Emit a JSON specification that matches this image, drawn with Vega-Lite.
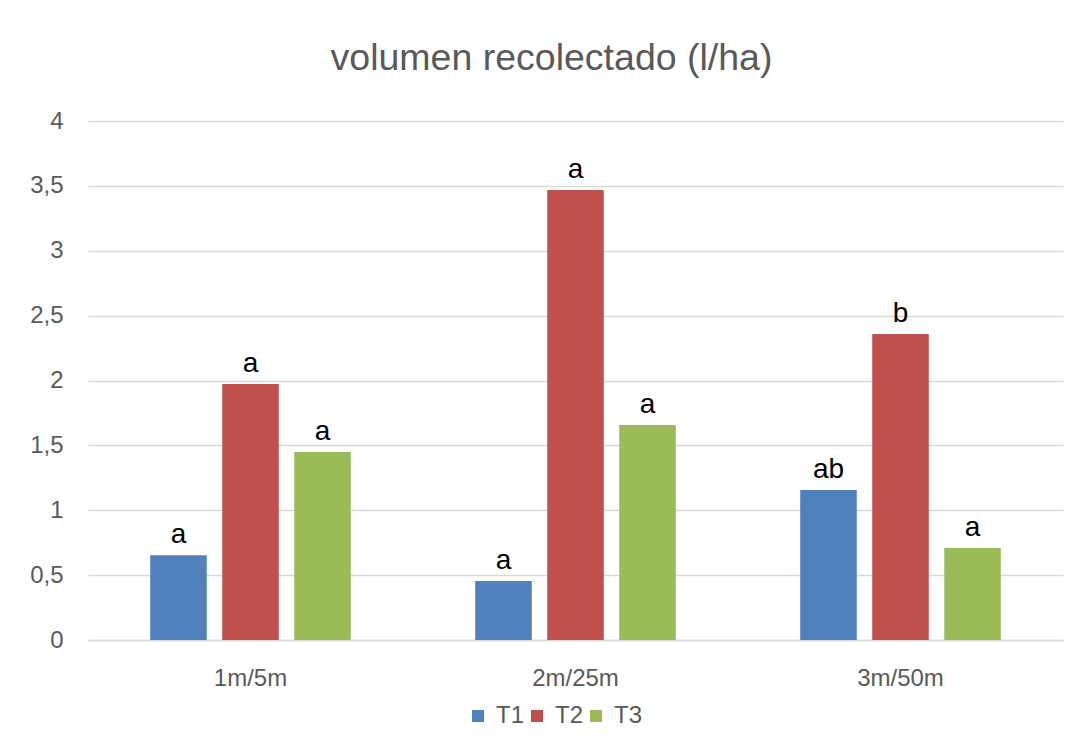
{
  "$schema": "https://vega.github.io/schema/vega-lite/v6.json",
  "width": 975,
  "height": 519,
  "autosize": {"type": "none"},
  "padding": {"left": 88, "top": 121, "right": 12, "bottom": 107},
  "background": "white",
  "title": {
    "text": "volumen recolectado (l/ha)",
    "fontSize": 37.5,
    "font": "Liberation Sans",
    "fontWeight": "normal",
    "color": "#595959",
    "anchor": "middle",
    "dx": -24,
    "offset": 2,
    "baseline": "alphabetic"
  },
  "data": {
    "values": [
      {"dist": "1m/5m", "trat": "T1", "vol": 0.653, "letra": "a"},
      {"dist": "1m/5m", "trat": "T2", "vol": 1.973, "letra": "a"},
      {"dist": "1m/5m", "trat": "T3", "vol": 1.449, "letra": "a"},
      {"dist": "2m/25m", "trat": "T1", "vol": 0.455, "letra": "a"},
      {"dist": "2m/25m", "trat": "T2", "vol": 3.468, "letra": "a"},
      {"dist": "2m/25m", "trat": "T3", "vol": 1.657, "letra": "a"},
      {"dist": "3m/50m", "trat": "T1", "vol": 1.156, "letra": "ab"},
      {"dist": "3m/50m", "trat": "T2", "vol": 2.358, "letra": "b"},
      {"dist": "3m/50m", "trat": "T3", "vol": 0.709, "letra": "a"}
    ]
  },
  "encoding": {
    "x": {
      "field": "dist",
      "type": "nominal",
      "sort": ["1m/5m", "2m/25m", "3m/50m"],
      "scale": {"paddingInner": 0, "paddingOuter": 0},
      "axis": {
        "title": null,
        "labelAngle": 0,
        "ticks": false,
        "domain": true,
        "domainColor": "#d9d9d9",
        "domainWidth": 1.5,
        "labelFontSize": 24,
        "labelPadding": 26,
        "labelColor": "#595959",
        "labelFont": "Liberation Sans"
      }
    },
    "xOffset": {
      "field": "trat",
      "type": "nominal",
      "sort": ["T1", "T2", "T3"],
      "scale": {"paddingInner": 0.215, "paddingOuter": 0.864}
    },
    "y": {
      "field": "vol",
      "type": "quantitative",
      "scale": {"domain": [0, 4], "nice": false},
      "axis": {
        "title": null,
        "values": [0, 0.5, 1, 1.5, 2, 2.5, 3, 3.5, 4],
        "labelExpr": "replace(format(datum.value, '~g'), '.', ',')",
        "domain": false,
        "ticks": false,
        "grid": true,
        "gridColor": "#d9d9d9",
        "gridWidth": 1.5,
        "labelFontSize": 24,
        "labelColor": "#595959",
        "labelPadding": 25,
        "labelFont": "Liberation Sans"
      }
    }
  },
  "layer": [
    {
      "mark": {"type": "bar"},
      "encoding": {
        "color": {
          "field": "trat",
          "type": "nominal",
          "scale": {"domain": ["T1", "T2", "T3"], "range": ["#4f81bd", "#c0504d", "#9bbb59"]},
          "legend": {
            "title": null,
            "orient": "none",
            "legendX": 378,
            "legendY": 583,
            "direction": "horizontal",
            "symbolType": "square",
            "symbolSize": 144,
            "symbolStrokeWidth": 0,
            "labelFontSize": 24,
            "labelColor": "#595959",
            "labelFont": "Liberation Sans",
            "labelOffset": 6,
            "columnPadding": 0,
            "padding": 0
          }
        }
      }
    },
    {
      "mark": {
        "type": "text",
        "baseline": "alphabetic",
        "dy": -12,
        "fontSize": 28,
        "font": "Liberation Sans",
        "color": "black"
      },
      "encoding": {"text": {"field": "letra"}}
    }
  ],
  "config": {"view": {"stroke": null}, "font": "Liberation Sans"}
}
